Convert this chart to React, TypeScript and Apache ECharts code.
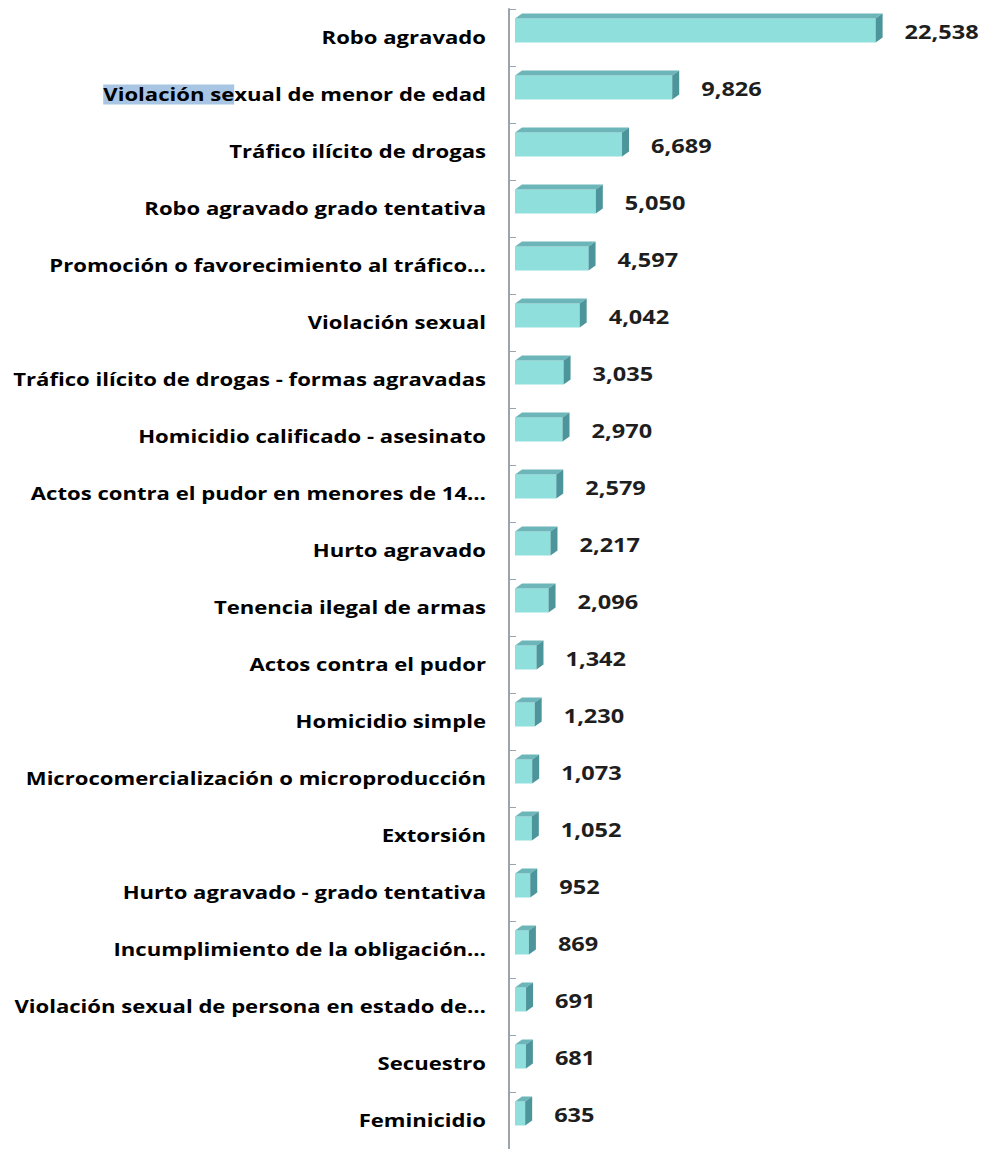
import React, { useEffect, useRef } from "react";
import * as echarts from "echarts";

const categories: string[] = [
  "Robo agravado",
  "Violación sexual de menor de edad",
  "Tráfico ilícito de drogas",
  "Robo agravado grado tentativa",
  "Promoción o favorecimiento al tráfico…",
  "Violación sexual",
  "Tráfico ilícito de drogas - formas agravadas",
  "Homicidio calificado - asesinato",
  "Actos contra el pudor en menores de 14…",
  "Hurto agravado",
  "Tenencia ilegal de armas",
  "Actos contra el pudor",
  "Homicidio simple",
  "Microcomercialización o microproducción",
  "Extorsión",
  "Hurto agravado - grado tentativa",
  "Incumplimiento de la obligación…",
  "Violación sexual de persona en estado de…",
  "Secuestro",
  "Feminicidio",
];

const values: number[] = [
  22538, 9826, 6689, 5050, 4597, 4042, 3035, 2970, 2579, 2217, 2096, 1342,
  1230, 1073, 1052, 952, 869, 691, 681, 635,
];

// the reference shows a text selection over the start of the second label
const HIGHLIGHT_INDEX = 1;
const HIGHLIGHT_CHARS = 12;

export default function App() {
  const ref = useRef<HTMLDivElement>(null);

  useEffect(() => {
    if (!ref.current) return;
    const chart = echarts.init(ref.current, null, { renderer: "svg" });

    const FRONT = "#8fdfdc";
    const TOP = "#6cb6b9";
    const SIDE = "#4c959b";
    const DEPTH_X = 7;
    const DEPTH_Y = 5;
    const FRONT_H = 24;
    const SHIFT = -7;
    const LABEL_RIGHT = 486;
    const TEXT = "#1e1e1e";

    chart.setOption({
      animation: false,
      backgroundColor: "#ffffff",
      grid: { left: 515, top: 9, width: 400, height: 1141 },
      xAxis: {
        type: "value",
        min: 0,
        max: 25000,
        show: false,
      },
      yAxis: {
        type: "category",
        inverse: true,
        data: categories,
        offset: 6,
        axisLine: { show: true, onZero: false, lineStyle: { color: "#9aa4ad", width: 2 } },
        axisTick: { show: true, inside: true, length: 7, lineStyle: { color: "#9aa4ad", width: 1 } },
        splitLine: { show: false },
        axisLabel: { show: false },
      },
      series: [
        {
          type: "custom",
          data: values.map((v, i) => [v, i]),
          encode: { x: 0, y: 1 },
          clip: false,
          renderItem: (params: any, api: any) => {
            const v = api.value(0);
            const idx = api.value(1);
            const start = api.coord([0, idx]);
            const end = api.coord([v, idx]);
            const x0 = start[0];
            const x1 = end[0];
            const yc = start[1] + SHIFT;
            const yTop = yc - FRONT_H / 2;
            const yBot = yc + FRONT_H / 2;
            const name = categories[idx];
            const labelText =
              idx === HIGHLIGHT_INDEX
                ? "{hl|" + name.slice(0, HIGHLIGHT_CHARS) + "}{n|" + name.slice(HIGHLIGHT_CHARS) + "}"
                : "{n|" + name + "}";
            return {
              type: "group",
              children: [
                {
                  type: "rect",
                  shape: { x: x0, y: yTop, width: x1 - x0, height: FRONT_H },
                  style: { fill: FRONT },
                },
                {
                  type: "polygon",
                  shape: {
                    points: [
                      [x0, yTop],
                      [x0 + DEPTH_X, yTop - DEPTH_Y],
                      [x1 + DEPTH_X, yTop - DEPTH_Y],
                      [x1, yTop],
                    ],
                  },
                  style: { fill: TOP },
                },
                {
                  type: "polygon",
                  shape: {
                    points: [
                      [x1, yTop],
                      [x1 + DEPTH_X, yTop - DEPTH_Y],
                      [x1 + DEPTH_X, yBot - DEPTH_Y],
                      [x1, yBot],
                    ],
                  },
                  style: { fill: SIDE },
                },
                {
                  type: "text",
                  x: x1 + DEPTH_X + 22,
                  y: yc + 1,
                  scaleX: 1.24,
                  style: {
                    text: echarts.format.addCommas(v),
                    fontFamily: "Open Sans",
                    fontWeight: "bold",
                    fontSize: 19,
                    fill: TEXT,
                    verticalAlign: "middle",
                    align: "left",
                  },
                },
                {
                  type: "text",
                  x: LABEL_RIGHT,
                  y: start[1],
                  scaleX: 1.3,
                  style: {
                    text: labelText,
                    verticalAlign: "middle",
                    align: "right",
                    rich: {
                      hl: {
                        backgroundColor: "#a8c6e4",
                        fontFamily: "Open Sans",
                        fontWeight: "bold",
                        fontSize: 17,
                        color: TEXT,
                        padding: [2, 0, 1, 0],
                      },
                      n: {
                        fontFamily: "Open Sans",
                        fontWeight: "bold",
                        fontSize: 17,
                        color: TEXT,
                      },
                    },
                  },
                },
              ],
            };
          },
        },
      ],
    });

    return () => chart.dispose();
  }, []);

  return (
    <div
      ref={ref}
      style={{ position: "fixed", left: 0, top: 0, width: 984, height: 1149 }}
    />
  );
}
